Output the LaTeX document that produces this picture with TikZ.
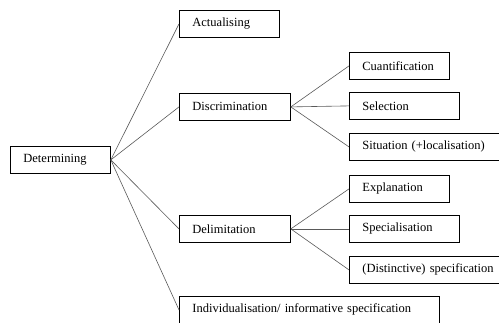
\documentclass[tikz,border=0pt]{standalone}
\usepackage{fontspec}
\setmainfont{Liberation Serif}
\tikzset{
  box/.style={draw, rectangle, anchor=north west, minimum height=27pt,
    inner xsep=13pt, inner ysep=0pt, align=left, line width=0.8pt,
    font=\fontsize{12.5}{14}\selectfont},
  link/.style={draw=black!65, line width=0.6pt}
}
\begin{document}
\begin{tikzpicture}[x=1pt,y=-1pt]
\useasboundingbox (0,0) rectangle (499,322);
\clip (0,0) rectangle (499,322);
% first level
\node[box, text width=74pt] (determining) at (10,146) {Determining};
\node[box, text width=74pt] (actualising) at (179,10) {Actualising};
\node[box, text width=85pt] (discrimination) at (179,93) {Discrimination};
\node[box, text width=85pt] (delimitation) at (179,215) {Delimitation};
\node[box, text width=234pt] (individual) at (179,296) {Individualisation/ informative specification};
% second level
\node[box, text width=74pt] (cuantification) at (349,52) {Cuantification};
\node[box, text width=84pt] (selection) at (349,92) {Selection};
\node[box, text width=150pt] (situation) at (349,133) {Situation (+localisation)};
\node[box, text width=74pt] (explanation) at (349,175) {Explanation};
\node[box, text width=84pt] (specialisation) at (349,215) {Specialisation};
\node[box, text width=150pt] (distinctive) at (349,256) {(Distinctive) specification};
% connectors
\foreach \t in {actualising,discrimination,delimitation,individual}
   \draw[link] (determining.east) -- (\t.west);
\foreach \t in {cuantification,selection,situation}
   \draw[link] (discrimination.east) -- (\t.west);
\foreach \t in {explanation,specialisation,distinctive}
   \draw[link] (delimitation.east) -- (\t.west);
\end{tikzpicture}
\end{document}
